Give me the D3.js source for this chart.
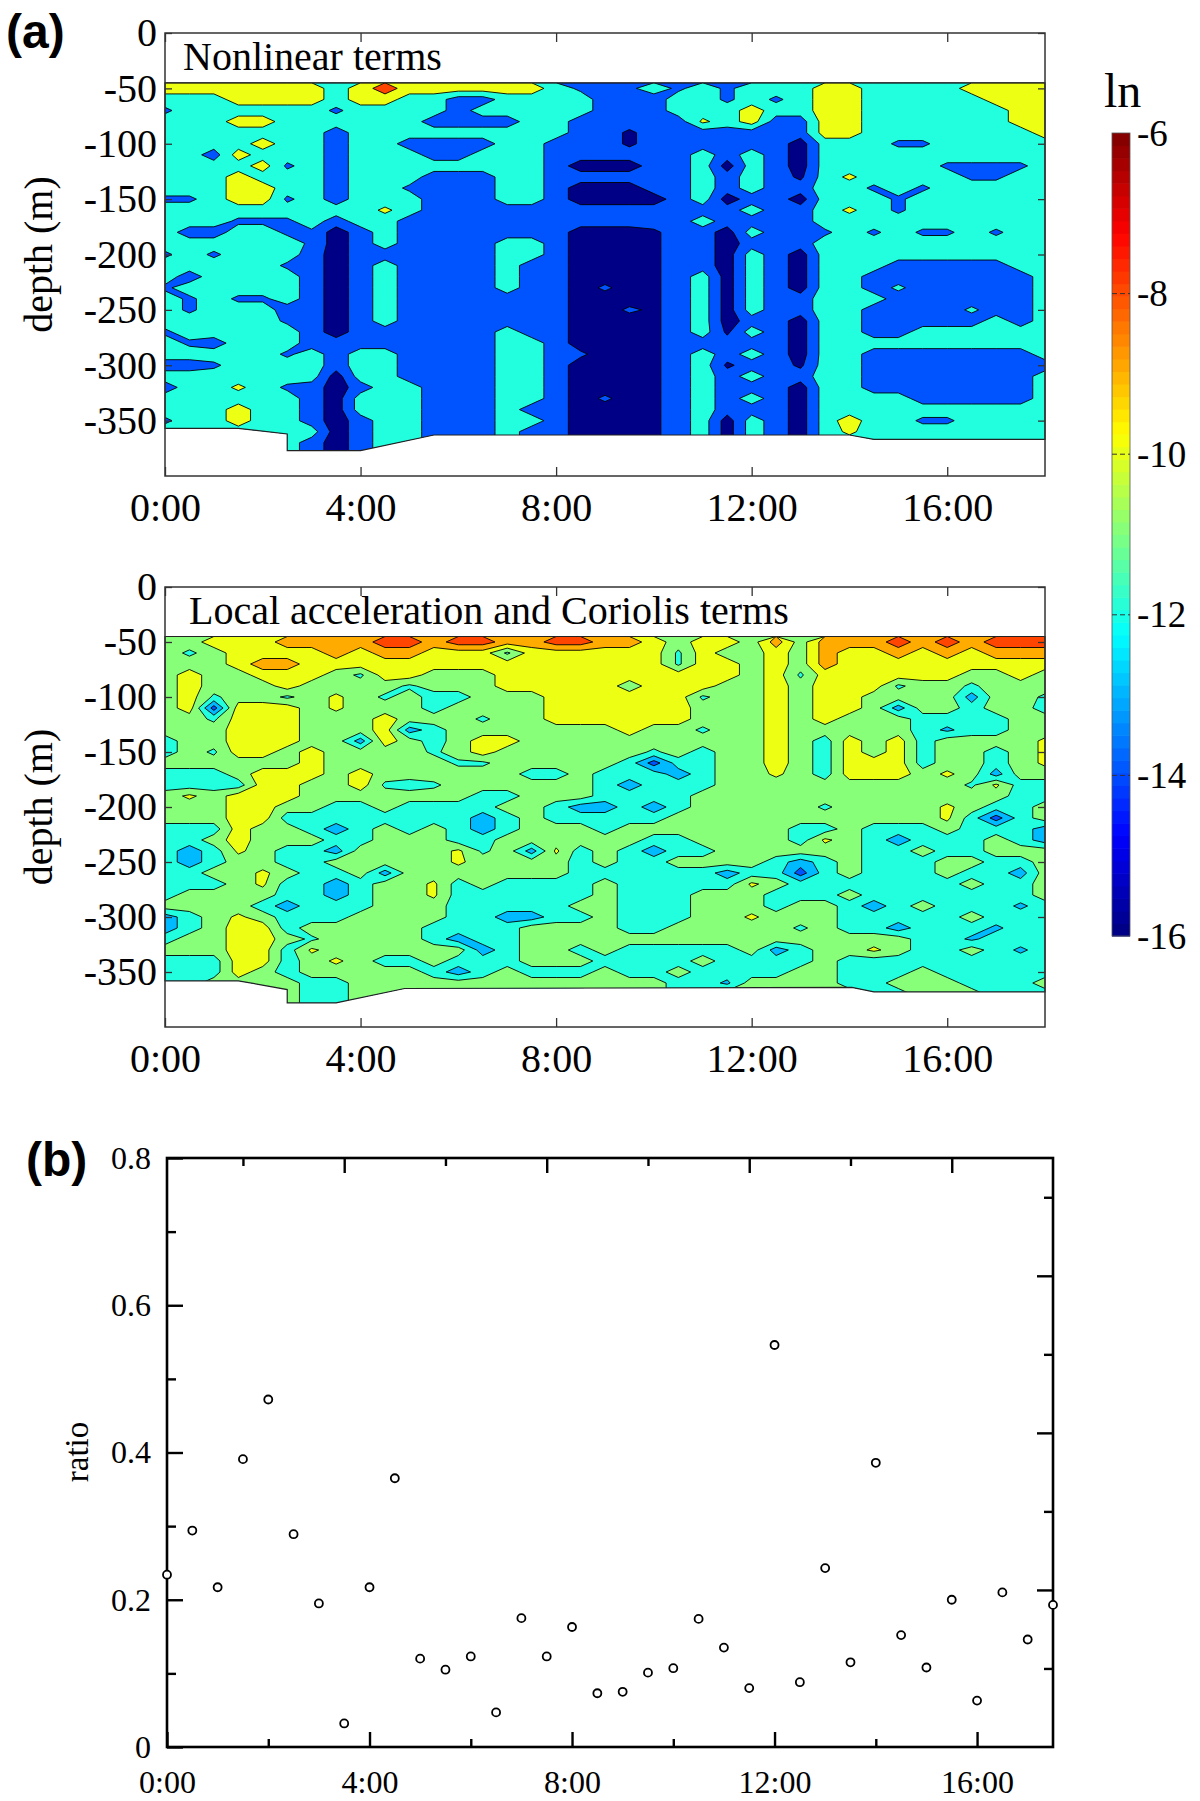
<!DOCTYPE html>
<html>
<head>
<meta charset="utf-8">
<script src="https://cdn.jsdelivr.net/npm/d3@7"></script>
<style>
  html, body { margin: 0; padding: 0; background: #fff; }
  svg { display: block; }
  text { font-family: "Liberation Serif", "Times New Roman", serif; fill: #000; }
  .panel-tag { font-family: "Liberation Sans", Arial, sans-serif; font-weight: bold; }
</style>
</head>
<body>
<svg id="chart" width="1200" height="1801"></svg>
<script>
// ---- grid coordinates (cell centres) ----
const gridTimes = [0, 0.5, 1, 1.5, 2, 2.5, 3, 3.5, 4, 4.5, 5, 5.5, 6, 6.5, 7, 7.5, 8, 8.5, 9,
  9.5, 10, 10.5, 11, 11.5, 12, 12.5, 13, 13.5, 14, 14.5, 15, 15.5, 16, 16.5, 17, 17.5, 18];
const gridDepths = [-50, -60, -70, -80, -90, -100, -110, -120, -130, -140, -150, -160, -170,
  -180, -190, -200, -210, -220, -230, -240, -250, -260, -270, -280, -290, -300, -310, -320,
  -330, -340, -350, -360, -370, -380];

// ---- ln values, one run-length coded row per depth, letters = level ----
const nonlinearLevels = { n: -15, m: -14.4, w: -13.6, b: -13, e: -12.4, k: -11.6, c: -11, x: -9.6, y: -9, r: -7 };
const nonlinearRows = [
  "7y c y r 6y c 3e c e c e 3c 2y 4c 4y",
  "3c 4y c 2y 2c 2b 4c 3b 2c e c e c 2y 5c 3y",
  "e 6c e 4c b 5c 3b 3c y 2c 2y 6c 2y",
  "3c 2y 6c 4b 2c 5b x c y 2b 2y 6c 2y",
  "7c b 9c 2b m 7b 2y 7c y",
  "4c y 2c b 2c 4b 2c 3b m 6b n 3c 2e 5c",
  "2c b y 3c b 3c 2b 3c 6b c b c b n 10c",
  "4c y e c b 8c b 3n 2b c n c b n 5c 4e c",
  "3c y 3c b 3c 3b 2c 6b c b c b m c x 4c 2e 2c",
  "3c 2y 2c b 2c e 3b 2c b 3n 2b c b c 2b 2c e c e 5c",
  "2e c 2y e c b 3c 3b 2c b 4n b c n 2b n 3c e 6c",
  "9c x c 13b c 2b c x c e 6c",
  "3c 3e c b 2c 12b c 4b 10c",
  "c 2b 2c e e n b c 7b 3n m 2b n c 2b e c e c 2e c e 2c",
  "6c e n b c 4b 2c b 3n m 2b n 3b 10c",
  "e c e 3c b n 6b 2c b 3n m 2b n c b n 10c",
  "5c e b n b c 4b c 2b 3n m 2b n c b n 3c 5b 2c",
  "c b 4c b n b c 4b c 2b 3n m b c n c b n 2c 7b c",
  "e 5c b n b c 4b c 2b n w n m b c n c b n 2c b k 5b c",
  "c e c 2e c b n b c 7b 3n m b c n c 2b 3c 6b c",
  "c e 3c 2b n b c 7b 2n w m b c n c 2b 2c 4b k 2b c",
  "5c e b n b c 7b 3n m b c n 2b n 2c 5b c b c",
  "e 5c b n 6b c 2b 3n m b c m c b n 2c 2b 6c",
  "c e b 3c 8b 2c b 3n m 5b n 10c",
  "5c e c b 2c 4b 2c b w 2n m b c b c b n 2c 7b c",
  "2b e 4c b 2c 4b 2c b 3n m b c m 2b m 2c 8b",
  "7c n 2c 4b 2c b 3n m b c b c 2b 2c 7b c",
  "b 2c x c e b n b 2c 3b 2c b 3n m b c 3b n 2c 7b c",
  "6c b n 3c 3b 2c b n w n m b c b c b n 4c 5b c",
  "3c y 2c b n 3c 3b c 2b 3n m b c 3b n 10c",
  "e 2c y 2c b n b 2c 3b 2c b 3n m b c n c b n c y 2c 2e 4c",
  "6c c n b 2c 3b c 2b 3n m b c n c b n c x 8c",
  "6c b n b 2c 3b c 2b 3n m b c n c b n 10c",
  "6c b n b 2c 3b c 2b 3n m b c n c b n 10c"
];

const localLevels = { d: -13.5, l: -12.5, p: -12.2, c: -11.5, e: -11.2, g: -10.5, x: -9.8, y: -9.5, o: -8.5, r: -7.5 };
const localRows = [
  "2g 3y 4o 2r o 2r 2o 2r 2o y g 2y g o g 3o r o r o 3r",
  "g e g 4y o y 2o 3y e 3y 3y e y 2g y g o y y o y o y 3o",
  "3g y 2o 12y 3y e 2y g y g o 9y",
  "g y 2g 3y g e 2y 3g 4y 6y g y e 6y 2g y g",
  "g y 3g y 4g e 3g 4y y g 3y 2g y g 3y e 2g e 3g",
  "g y e 2g e g x g e g 2c 3g 2y 4y e 2g y g 2y 4g l 2g e",
  "g y d 3y g x 3g c 4g 2y 4y 3g y g 2y g l 2g c 2g c",
  "2g e 3y 3g y 3g e 2g 2y 4y 3g y g y 3g 4c 2g",
  "3g 3y 3g y l c 6g g y g g e 2g y 5g c p 2c 2g",
  "c g g 3y 2g l y g c g 2y 3g 7g y g c y g y c 4g x",
  "c g e 2y g y 4g e g y 4g 2g e g c 2g y g c y g y c 2g c g x",
  "6g y 5g 2e 4g g c d 2c 2g y g c 3y c 2g c g x",
  "3c g 3y g y 6g 2c g 3c l c 2g x g c 3y g x g l 2g",
  "2c 2c 2y 2g y e c e 6g c l 3c 10g e x 2c",
  "g x g 3y 7g 2c 3g 4c 13g 2c",
  "3g 2y 2g 2c g 4c 2g c l l c l c 5g e 4g x g 2c g",
  "3g 2y 8c l c g 2c 3c 11g x c d c g",
  "3c y 2g c l c g c g c l c 3g c 7g 2c g 3c g 3c l",
  "2c g y 3g 2c 3g 2c 4g 2g 2c 4g c x g c l 3c g c l",
  "c l c x g 2c l 4g x e g l x c g c l 2c 6g 2c g 2c 3g",
  "c l c 2g 2c 5g x 4g c g 2c 4g c l c g 3c 2g 2c g",
  "2c 2g x g 2c g l 7g c 4c c l 2c d c g 3c g 2c l g",
  "3c g x 2c l c 2g x c g 4c g 5c x g 7c g 2c g",
  "c 4g 2c l c 2g x 6c g 3c 3g 3c g 7c g",
  "4g c l 3c 3g 5c g g 3c 3g c 2g c l c g 3c p c",
  "l c g x g 3c 4g 2c 2l 2c g 3c 2g x 3g 5c g 3c",
  "l c g 2y c 5g 4c 3g g 2c 5g e g 2c l 3c p 2c",
  "c 2g 2y g e 4g c l 2c 3g 13g 2c p 3c",
  "3g 2y c x 6g l c 2g c g 5c g l c 2g x g 2c g c p c",
  "3c 2y c g x g 2c g 3c 3g 4c g 4c g 9c",
  "3c y g c 5g c l c g 3c g 2c g 4c 2g 3c g 5c",
  "2c 4g 2c 10g 3g 2c p 4g 2c 3g 3c g",
  "6g 2c 10g 3g 2c 6g 2c 3g 3c",
  "6g 2c 10g 3g 2c 6g 2c 3g 3c"
];

const nonlinearThresholds = [-16, -14, -12, -10, -8];
const localThresholds = [-16, -15, -14, -13, -12, -11, -10, -9, -8, -7];

// data limits: top of the record and the sea-bed profile
const dataTop = -45;
const nonlinearBottomT = [0, 1.5, 2.5, 2.5, 4, 5.5, 14, 14.5, 18];
const nonlinearBottomD = [-357, -357, -362, -377, -377, -363, -363, -367, -367];
const localBottomT = [0, 1.5, 2.5, 2.5, 3.5, 4.9, 14.05, 14.5, 18];
const localBottomD = [-358, -358, -366, -378, -378, -365, -364, -368, -368];

// ---- panel (b) ----
const ratioTimes = [0, 0.5, 1, 1.5, 2, 2.5, 3, 3.5, 4, 4.5, 5, 5.5, 6, 6.5, 7, 7.5, 8, 8.5,
  9, 9.5, 10, 10.5, 11, 11.5, 12, 12.5, 13, 13.5, 14, 14.5, 15, 15.5, 16, 16.5, 17, 17.5];
const ratioValues = [0.234, 0.294, 0.217, 0.391, 0.472, 0.289, 0.195, 0.032, 0.217, 0.365,
  0.120, 0.105, 0.123, 0.047, 0.175, 0.123, 0.163, 0.073, 0.075, 0.101, 0.107, 0.174,
  0.135, 0.080, 0.546, 0.088, 0.243, 0.115, 0.386, 0.152, 0.108, 0.200, 0.063, 0.210,
  0.146, 0.193];

// ---- ticks ----
const timeTicks = [0, 4, 8, 12, 16];
const timeMinorTicks = [2, 6, 10, 14];
const depthTicks = [0, -50, -100, -150, -200, -250, -300, -350];
const ratioTicks = [0, 0.2, 0.4, 0.6, 0.8];
const ratioMinorTicks = [0.1, 0.3, 0.5, 0.7];
const rightRatioTicks = [0.2, 0.4, 0.6];
const rightRatioMinorTicks = [0.1, 0.3, 0.5, 0.7];
const colorTicks = [-6, -8, -10, -12, -14, -16];

// ---------------------------------------------------------------
const svg = d3.select("#chart");
const fmtTime = d => d + ":00";

function jet(t) {
  const c = v => Math.max(0, Math.min(1, v));
  return d3.rgb(255 * c(1.5 - Math.abs(4 * t - 3)),
                255 * c(1.5 - Math.abs(4 * t - 2)),
                255 * c(1.5 - Math.abs(4 * t - 1))).formatHex();
}
const lnScale = d3.scaleLinear().domain([-16, -6]).range([0, 1]);
const bandColor = level => jet(lnScale(level) + 1 / 128);

function decodeRow(row, levels, n) {
  const out = [];
  row.trim().split(/\s+/).forEach(tok => {
    const m = tok.match(/^(\d*)([a-z])$/);
    const k = m[1] ? +m[1] : 1;
    for (let i = 0; i < k; i++) out.push(levels[m[2]]);
  });
  if (out.length !== n) console.warn("row length", out.length, row);
  while (out.length < n) out.push(out[out.length - 1]);
  return out.slice(0, n);
}

function contourPanel(cfg) {
  const x = d3.scaleLinear().domain([0, 18]).range([165, 1045]);
  const y = d3.scaleLinear().domain([0, -400]).range([cfg.top, cfg.bottom]);
  const nx = gridTimes.length, ny = gridDepths.length;
  const values = cfg.rows.flatMap(r => decodeRow(r, cfg.levels, nx));

  const col = d3.scaleLinear().domain([0.5, nx - 0.5]).range([gridTimes[0], gridTimes[nx - 1]]);
  const row = d3.scaleLinear().domain([0.5, ny - 0.5]).range([gridDepths[0], gridDepths[ny - 1]]);
  const proj = d3.geoTransform({
    point(u, v) { this.stream.point(x(col(u)), y(row(v))); }
  });
  const path = d3.geoPath(proj);
  const contours = d3.contours().size([nx, ny]).thresholds(cfg.thresholds)(values);

  const g = svg.append("g");
  const outline = [[0, dataTop], [18, dataTop]];
  for (let i = cfg.bottomT.length - 1; i >= 0; i--) outline.push([cfg.bottomT[i], cfg.bottomD[i]]);
  const line = d3.line().x(d => x(d[0])).y(d => y(d[1]));

  g.append("clipPath").attr("id", cfg.id)
    .append("path").attr("d", line(outline) + "Z");

  g.append("g").attr("clip-path", `url(#${cfg.id})`)
    .selectAll("path").data(contours).join("path")
    .attr("d", path)
    .attr("fill", d => bandColor(d.value))
    .attr("stroke", "#000")
    .attr("stroke-width", 0.9)
    .attr("stroke-linejoin", "round");

  g.append("path").attr("d", line(outline) + "Z")
    .attr("fill", "none").attr("stroke", "#222").attr("stroke-width", 1.2);

  // frame
  g.append("rect")
    .attr("x", x(0)).attr("y", y(0))
    .attr("width", x(18) - x(0)).attr("height", y(-400) - y(0))
    .attr("fill", "none").attr("stroke", "#333").attr("stroke-width", 1.5);

  // ticks (inward) and labels
  const axisStyle = sel => {
    sel.select(".domain").remove();
    sel.selectAll(".tick line").attr("stroke", "#333").attr("stroke-width", 1.3);
    sel.selectAll("text").style("font-size", "40px")
      .style("font-family", '"Liberation Serif", serif');
  };
  g.append("g").attr("transform", `translate(0,${cfg.bottom})`)
    .call(d3.axisBottom(x).tickValues(timeTicks).tickSizeInner(-9).tickSizeOuter(0)
      .tickPadding(17).tickFormat(fmtTime))
    .call(axisStyle);
  g.append("g").attr("transform", `translate(0,${cfg.top})`)
    .call(d3.axisTop(x).tickValues(timeTicks).tickSizeInner(-9).tickSizeOuter(0).tickFormat(""))
    .call(axisStyle);
  g.append("g").attr("transform", `translate(${x(0)},0)`)
    .call(d3.axisLeft(y).tickValues(depthTicks).tickSizeInner(-7).tickSizeOuter(0)
      .tickPadding(8).tickFormat(d => String(d)))
    .call(axisStyle);
  g.append("g").attr("transform", `translate(${x(18)},0)`)
    .call(d3.axisRight(y).tickValues(depthTicks).tickSizeInner(-7).tickSizeOuter(0).tickFormat(""))
    .call(axisStyle);

  g.append("text").attr("x", cfg.titleX).attr("y", y(0) + 37)
    .style("font-size", "40px").text(cfg.title);

  g.append("text")
    .attr("transform", `translate(52,${(cfg.top + cfg.bottom) / 2}) rotate(-90)`)
    .attr("text-anchor", "middle").style("font-size", "40px").text("depth (m)");
}

contourPanel({
  id: "clipNonlinear", top: 33, bottom: 476,
  rows: nonlinearRows, levels: nonlinearLevels, thresholds: nonlinearThresholds,
  bottomT: nonlinearBottomT, bottomD: nonlinearBottomD,
  title: "Nonlinear terms", titleX: 183
});
contourPanel({
  id: "clipLocal", top: 587, bottom: 1027,
  rows: localRows, levels: localLevels, thresholds: localThresholds,
  bottomT: localBottomT, bottomD: localBottomD,
  title: "Local acceleration and Coriolis terms", titleX: 189
});

svg.append("text").attr("class", "panel-tag").attr("x", 6).attr("y", 48)
  .style("font-size", "48px").text("(a)");

// ---- colour bar ----
const cy = d3.scaleLinear().domain([-16, -6]).range([936, 133]);
const cbX = 1112, cbW = 18, nBands = 64;
const cb = svg.append("g");
cb.selectAll("rect").data(d3.range(nBands)).join("rect")
  .attr("x", cbX).attr("width", cbW)
  .attr("y", k => cy(-16 + (k + 1) * 10 / nBands))
  .attr("height", k => cy(-16 + k * 10 / nBands) - cy(-16 + (k + 1) * 10 / nBands) + 0.6)
  .attr("fill", k => jet((k + 0.5) / nBands));
cb.append("rect").attr("x", cbX).attr("y", cy(-6)).attr("width", cbW)
  .attr("height", cy(-16) - cy(-6)).attr("fill", "none")
  .attr("stroke", "#555").attr("stroke-width", 0.8);
cb.selectAll("line.cbt").data(colorTicks.filter(d => d > -16 && d < -6)).join("line")
  .attr("class", "cbt")
  .attr("x1", cbX).attr("x2", cbX + cbW)
  .attr("y1", d => cy(d)).attr("y2", d => cy(d))
  .attr("stroke", "#333").attr("stroke-width", 1).attr("stroke-dasharray", "5,3");
cb.selectAll("text.cbl").data(colorTicks).join("text")
  .attr("class", "cbl")
  .attr("x", 1137).attr("y", d => cy(d)).attr("dy", "0.34em")
  .style("font-size", "37px").text(d => String(d));
cb.append("text").attr("x", 1104).attr("y", 107).style("font-size", "48px").text("ln");

// ---- panel (b) ----
const bx = d3.scaleLinear().domain([0, 17.5]).range([167, 1053]);
const bxTop = d3.scaleLinear().domain([0.5, 18]).range([167, 1053]);
const by = d3.scaleLinear().domain([0, 0.8]).range([1747, 1158]);
const byRight = d3.scaleLinear().domain([0, 0.75]).range([1747, 1158]);
const gb = svg.append("g");

const styleB = sel => {
  sel.select(".domain").remove();
  sel.selectAll(".tick line").attr("stroke", "#000").attr("stroke-width", 2.4);
  sel.selectAll("text").style("font-size", "32px")
    .style("font-family", '"Liberation Serif", serif');
};
// bottom
gb.append("g").attr("transform", "translate(0,1747)")
  .call(d3.axisBottom(bx).tickValues(timeTicks).tickSizeInner(-15).tickSizeOuter(0)
    .tickPadding(23).tickFormat(fmtTime)).call(styleB);
gb.append("g").attr("transform", "translate(0,1747)")
  .call(d3.axisBottom(bx).tickValues(timeMinorTicks).tickSizeInner(-8).tickSizeOuter(0)
    .tickFormat("")).call(styleB);
// top (offset axis)
gb.append("g").attr("transform", "translate(0,1158)")
  .call(d3.axisTop(bxTop).tickValues(timeTicks.filter(d => d > 0)).tickSizeInner(-15)
    .tickSizeOuter(0).tickFormat("")).call(styleB);
gb.append("g").attr("transform", "translate(0,1158)")
  .call(d3.axisTop(bxTop).tickValues(timeMinorTicks).tickSizeInner(-8).tickSizeOuter(0)
    .tickFormat("")).call(styleB);
// left
gb.append("g").attr("transform", "translate(167,0)")
  .call(d3.axisLeft(by).tickValues(ratioTicks).tickSizeInner(-16).tickSizeOuter(0)
    .tickPadding(16).tickFormat(d => d === 0 ? "0" : d3.format(".1f")(d))).call(styleB);
gb.append("g").attr("transform", "translate(167,0)")
  .call(d3.axisLeft(by).tickValues(ratioMinorTicks).tickSizeInner(-9).tickSizeOuter(0)
    .tickFormat("")).call(styleB);
// right (offset axis)
gb.append("g").attr("transform", "translate(1053,0)")
  .call(d3.axisRight(byRight).tickValues(rightRatioTicks).tickSizeInner(-16).tickSizeOuter(0)
    .tickFormat("")).call(styleB);
gb.append("g").attr("transform", "translate(1053,0)")
  .call(d3.axisRight(byRight).tickValues(rightRatioMinorTicks).tickSizeInner(-9).tickSizeOuter(0)
    .tickFormat("")).call(styleB);

gb.append("rect").attr("x", 167).attr("y", 1158).attr("width", 1053 - 167).attr("height", 1747 - 1158)
  .attr("fill", "none").attr("stroke", "#000").attr("stroke-width", 2.6);

gb.selectAll("circle").data(ratioTimes.map((t, i) => [t, ratioValues[i]])).join("circle")
  .attr("cx", d => bx(d[0])).attr("cy", d => by(d[1])).attr("r", 4)
  .attr("fill", "#fff").attr("stroke", "#000").attr("stroke-width", 1.8);

gb.append("text").attr("transform", "translate(88,1452) rotate(-90)")
  .attr("text-anchor", "middle").style("font-size", "33px").text("ratio");
svg.append("text").attr("class", "panel-tag").attr("x", 26).attr("y", 1176)
  .style("font-size", "48px").text("(b)");
</script>
</body>
</html>
